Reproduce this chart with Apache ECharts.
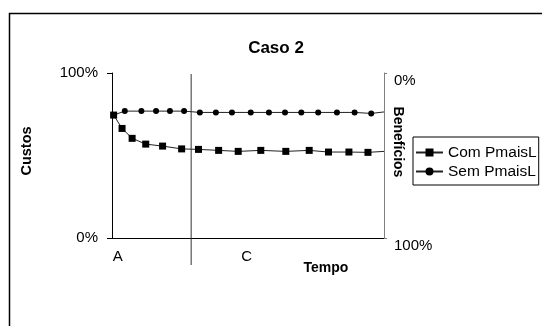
<!DOCTYPE html>
<html>
<head>
<meta charset="utf-8">
<script src="https://cdn.jsdelivr.net/npm/echarts@6/dist/echarts.min.js"></script>
<style>
html,body{margin:0;padding:0;background:#fff;}
#c{width:542px;height:326px;}
</style>
</head>
<body>
<div id="c"></div>
<script>
// ---- data ----
var titleText = 'Caso 2';
var seriesNames = ['Com PmaisL', 'Sem PmaisL'];
// Com PmaisL (squares): x position along Tempo (0-100), y in % (Custos)
var comX = [0.6, 3.7, 7.4, 12.4, 18.6, 25.6, 31.8, 39.2, 46.4, 54.7, 63.9, 72.5, 79.6, 87.1, 94.1];
var comY = [74.5, 66.4, 60.4, 56.9, 55.7, 54.0, 53.7, 53.1, 52.5, 53.1, 52.5, 53.1, 52.1, 52.1, 51.9];
var comEnd = [100, 52.5];
// Sem PmaisL (circles)
var semX = [0.6, 4.7, 10.8, 16.2, 21.3, 26.5, 32.3, 38.2, 44.1, 51.0, 57.7, 63.6, 69.6, 75.8, 82.7, 89.2, 95.3];
var semY = [74.5, 76.9, 76.9, 76.9, 76.9, 76.9, 76.1, 76.1, 76.1, 76.1, 76.1, 76.1, 76.1, 76.1, 76.1, 76.1, 75.5];
var semEnd = [100, 76.4];
// category labels on the time axis and the divider between them
var catLabels = ['A', 'C'];
var catPos = [2.1, 49.5];
var dividerPos = 29.1;
var leftTicks = [0, 100];
var rightTicks = [0, 100];
var axisNames = {left: 'Custos', right: 'Benefícios', bottom: 'Tempo'};

var FONT = 'Arial, "Liberation Sans", sans-serif';

function pairs(xs, ys, end) {
  var d = xs.map(function (x, i) { return [x, ys[i]]; });
  d.push({value: end, symbol: 'none'});
  return d;
}

var chart = echarts.init(document.getElementById('c'), null, {renderer: 'canvas'});

var option = {
  animation: false,
  backgroundColor: '#ffffff',
  textStyle: {fontFamily: FONT},
  title: {
    text: titleText,
    left: 271, top: 43, textAlign: 'center', textVerticalAlign: 'middle',
    textStyle: {fontFamily: FONT, fontSize: 17, fontWeight: 'bold', color: '#000'}
  },
  grid: {left: 112, top: 73, width: 272, height: 165},
  xAxis: {
    type: 'value', min: 0, max: 100,
    axisLine: {show: true, onZero: false, lineStyle: {color: '#000', width: 1}},
    axisTick: {show: false}, axisLabel: {show: false}, splitLine: {show: false}
  },
  yAxis: [
    {
      type: 'value', position: 'left', min: leftTicks[0], max: leftTicks[1], interval: 100,
      axisLine: {show: true, lineStyle: {color: '#000', width: 1}},
      axisTick: {show: true, inside: false, length: 5, lineStyle: {color: '#000'}},
      axisLabel: {formatter: '{value}%', margin: 14, fontSize: 15, color: '#000', fontFamily: FONT},
      splitLine: {show: false}
    },
    {
      type: 'value', position: 'right', inverse: true, min: rightTicks[0], max: rightTicks[1], interval: 100,
      axisLine: {show: true, lineStyle: {color: '#808080', width: 1}},
      axisTick: {show: true, inside: false, length: 3, lineStyle: {color: '#808080'}},
      axisLabel: {formatter: '{value}%', margin: 10, fontSize: 15, color: '#000', fontFamily: FONT, verticalAlign: 'top'},
      splitLine: {show: false}
    }
  ],
  legend: {
    orient: 'vertical', left: 413, top: 137,
    data: seriesNames,
    borderColor: '#000', borderWidth: 1, borderRadius: 0,
    padding: [6, 2, 4, 2],
    itemWidth: 27, itemHeight: 10, itemGap: 0,
    textStyle: {fontFamily: FONT, fontSize: 15.5, color: '#000', lineHeight: 19}
  },
  series: [
    {
      name: seriesNames[1], type: 'line', yAxisIndex: 0,
      data: pairs(semX, semY, semEnd),
      symbol: 'circle', symbolSize: 6,
      lineStyle: {color: '#222', width: 1},
      itemStyle: {color: '#000'}
    },
    {
      name: seriesNames[0], type: 'line', yAxisIndex: 0,
      data: pairs(comX, comY, comEnd),
      symbol: 'rect', symbolSize: 7,
      lineStyle: {color: '#222', width: 1},
      itemStyle: {color: '#000'}
    }
  ]
};
chart.setOption(option);

// decorations positioned through the chart's own scales
var gTop = chart.convertToPixel({gridIndex: 0}, [0, 100]);
var gBot = chart.convertToPixel({gridIndex: 0}, [100, 0]);
var divPx = chart.convertToPixel({xAxisIndex: 0}, dividerPos);
var graphics = [
  {type: 'rect', shape: {x: 9.5, y: 13.5, width: 700, height: 500}, style: {fill: null, stroke: '#000', lineWidth: 1.5}, silent: true, z: 100},
  {type: 'line', shape: {x1: divPx, y1: gTop[1] + 1, x2: divPx, y2: gBot[1] + 27}, style: {stroke: '#333', lineWidth: 1}, z: 50},
  {type: 'text', style: {text: axisNames.left, x: 27, y: 151, font: 'bold 14.5px ' + FONT, textAlign: 'center', textVerticalAlign: 'middle', fill: '#000'}, rotation: Math.PI / 2, originX: 27, originY: 151},
  {type: 'text', style: {text: axisNames.right, x: 398, y: 142, font: 'bold 14px ' + FONT, textAlign: 'center', textVerticalAlign: 'middle', fill: '#000'}, rotation: -Math.PI / 2, originX: 398, originY: 142},
  {type: 'text', style: {text: axisNames.bottom, x: 326, y: 268, font: 'bold 14px ' + FONT, textAlign: 'center', textVerticalAlign: 'middle', fill: '#000'}}
];
catLabels.forEach(function (t, i) {
  var px = chart.convertToPixel({xAxisIndex: 0}, catPos[i]);
  graphics.push({type: 'text', style: {text: t, x: px, y: gBot[1] + 19, font: '15px ' + FONT, textAlign: 'center', textVerticalAlign: 'middle', fill: '#000'}});
});
chart.setOption({graphic: graphics});
</script>
</body>
</html>
